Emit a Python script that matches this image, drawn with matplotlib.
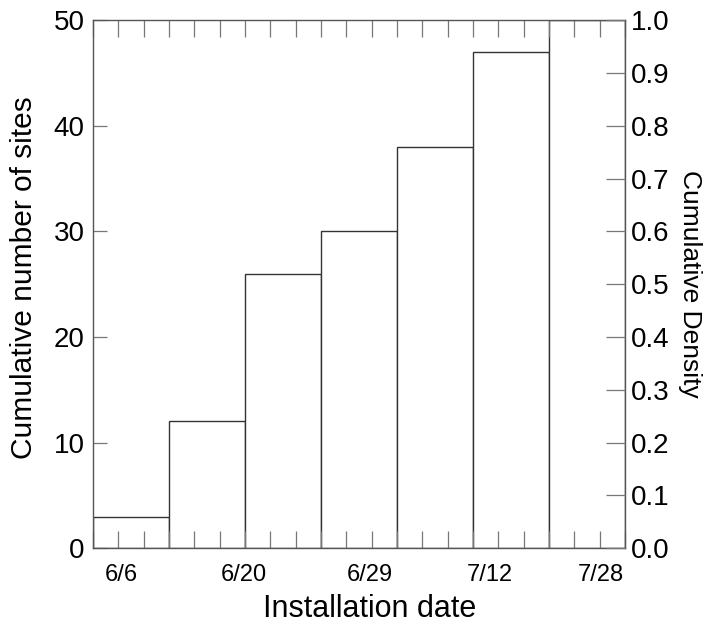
import numpy as np
import matplotlib.pyplot as plt
from matplotlib.ticker import MultipleLocator, FormatStrFormatter

plt.rcParams['font.family'] = ['Liberation Sans', 'DejaVu Sans']

# cumulative site counts per installation period
counts = [3, 12, 26, 30, 38, 47, 50]
total_sites = 50
date_labels = ['6/6', '6/20', '6/29', '7/12', '7/28']
date_pos = [0.38, 1.99, 3.64, 5.22, 6.68]

n_bins = len(counts)
edges = np.arange(n_bins)

fig = plt.figure(figsize=(7.09, 6.28), dpi=100)
ax = fig.add_axes([0.131, 0.127, 0.7505, 0.841])

ax.bar(edges, counts, width=1.0, align='edge', facecolor='white',
       edgecolor='#333333', linewidth=1.0, zorder=1)

ax.set_xlim(0, n_bins)
ax.set_ylim(0, total_sites)

# dates as plain labels, small ticks every third of a bin on top and bottom
ax.set_xticks(date_pos)
ax.set_xticklabels(date_labels, fontsize=17)
ax.tick_params(axis='x', which='major', length=0, pad=11)
ax.xaxis.set_minor_locator(MultipleLocator(1 / 3))
ax.tick_params(axis='x', which='minor', direction='in', length=12,
               width=0.9, color='#777777', top=True, bottom=True)

ax.yaxis.set_major_locator(MultipleLocator(10))
ax.tick_params(axis='y', which='major', direction='in', length=10,
               width=0.9, color='#777777', labelsize=20, pad=6)

for sp in ax.spines.values():
    sp.set_color('#555555')
    sp.set_linewidth(1.0)

ax.set_xlabel('Installation date', fontsize=22)
ax.xaxis.set_label_coords(0.521, -0.087)
ax.set_ylabel('Cumulative number of sites', fontsize=21.5)
ax.yaxis.set_label_coords(-0.103, 0.512)

# density scale on the right
ax2 = ax.twinx()
ax2.set_ylim(0, 1)
ax2.yaxis.set_major_locator(MultipleLocator(0.1))
ax2.yaxis.set_major_formatter(FormatStrFormatter('%.1f'))
ax2.tick_params(axis='y', direction='in', length=14, width=0.9,
                color='#777777', labelsize=20, pad=4)
for sp in ax2.spines.values():
    sp.set_visible(False)
ax2.set_ylabel('Cumulative Density', fontsize=19, rotation=270, labelpad=24)

fig.savefig('out.png', dpi=100)
